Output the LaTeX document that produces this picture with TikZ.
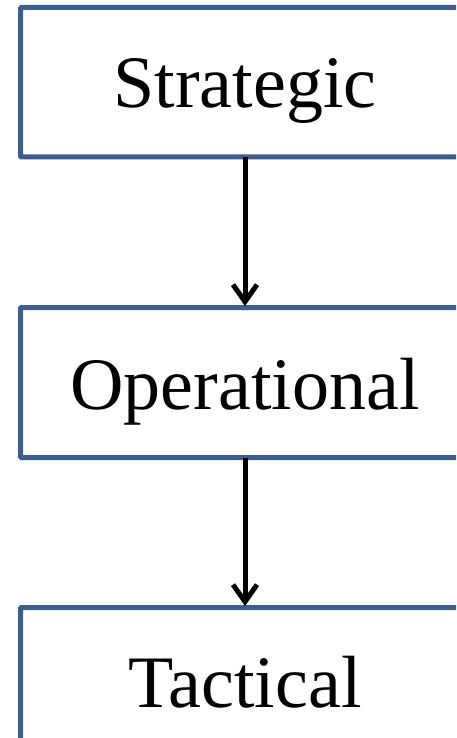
\documentclass[tikz,border=0pt]{standalone}
\usepackage{fontspec}
\setmainfont{Liberation Serif}
\usetikzlibrary{arrows.meta}
\definecolor{boxblue}{HTML}{3B5E8C}
\begin{document}
\begin{tikzpicture}[x=1pt,y=-1pt,
  levelbox/.style={draw=boxblue, line width=5pt, rounded corners=1pt},
  leveltext/.style={font=\fontsize{74}{80}\selectfont, anchor=base, inner sep=0pt},
  flow/.style={line width=5pt, -{Straight Barb[length=17pt,width=24pt,line width=5pt]}}]
\useasboundingbox (0,0) rectangle (456,738);
\clip (0,0) rectangle (456,738);
\draw[levelbox] (20.5,7.5) rectangle (475,157);
\draw[levelbox] (20.5,307.5) rectangle (475,457.5);
\draw[levelbox] (20.5,607.5) rectangle (475,760);
\coordinate (b1) at (245,157);
\coordinate (t2) at (245,306);
\coordinate (b2) at (245,457.5);
\coordinate (t3) at (245,606);
\node[leveltext] (s) at (245,108) {Strategic};
\node[leveltext] (o) at (245,409) {Operational};
\node[leveltext] (t) at (245,707) {Tactical};
\draw[flow] (b1) -- (t2);
\draw[flow] (b2) -- (t3);
\end{tikzpicture}
\end{document}
